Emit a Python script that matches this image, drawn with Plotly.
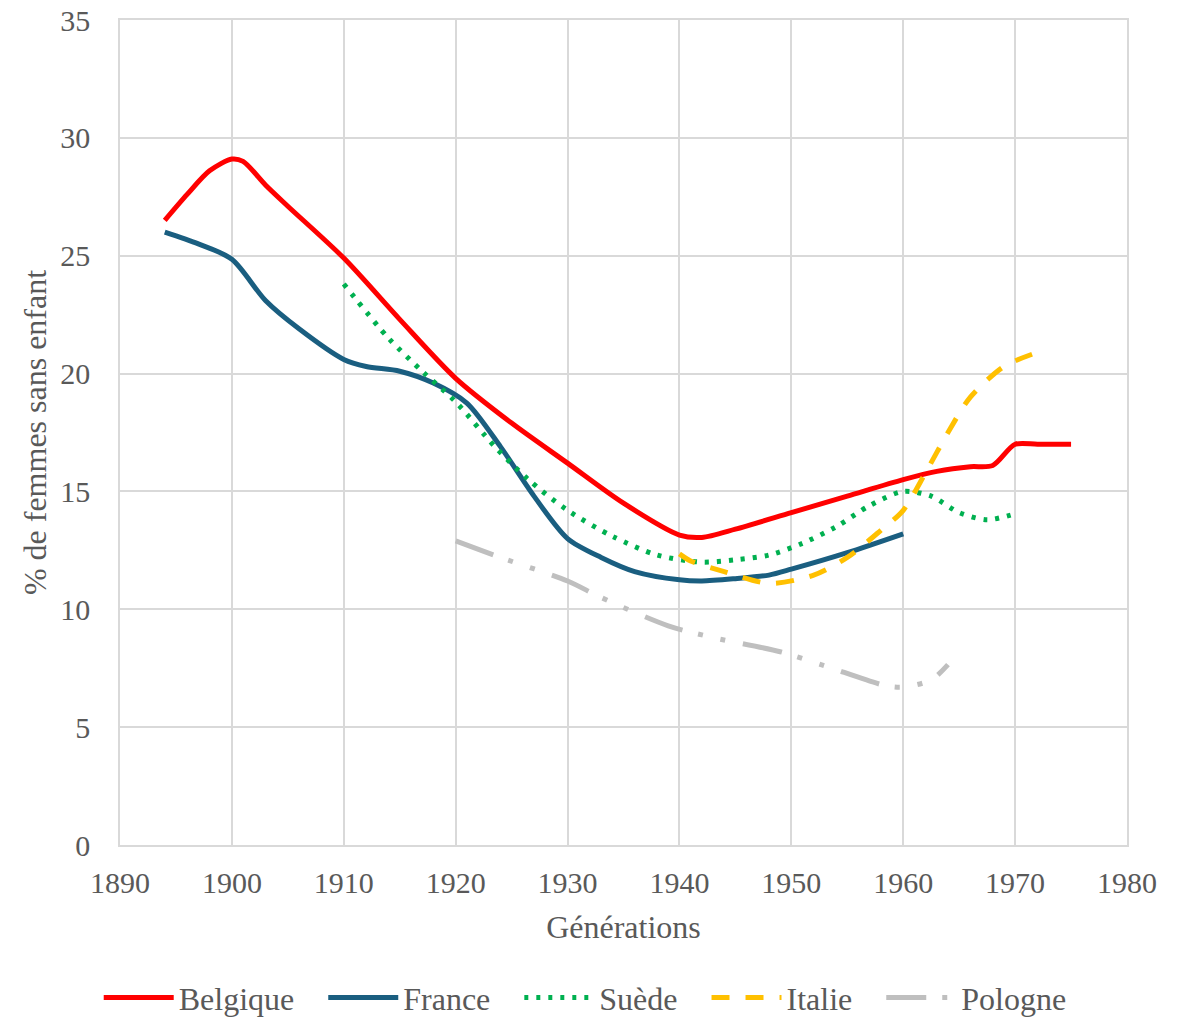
import plotly.graph_objects as go

# Belgique
bel_x = [1894, 1896, 1898, 1900, 1901, 1903, 1905, 1910, 1915, 1920, 1925, 1930, 1935, 1940, 1942, 1945, 1950, 1955, 1960, 1963, 1966, 1968, 1970, 1972, 1975]
bel_y = [26.5, 27.6, 28.6, 29.1, 29.0, 28.0, 27.1, 24.9, 22.3, 19.8, 17.9, 16.2, 14.5, 13.15, 13.05, 13.4, 14.1, 14.8, 15.5, 15.85, 16.05, 16.1, 17.0, 17.0, 17.0]

# France
fra_x = [1894, 1897, 1900, 1903, 1906, 1910, 1912, 1915, 1918, 1921, 1924, 1927, 1930, 1933, 1936, 1940, 1942, 1945, 1948, 1950, 1955, 1960]
fra_y = [26.0, 25.5, 24.85, 23.1, 21.9, 20.6, 20.3, 20.1, 19.6, 18.75, 16.9, 14.8, 13.0, 12.2, 11.6, 11.25, 11.2, 11.3, 11.45, 11.7, 12.4, 13.2]

# Suède
sue_x = [1910, 1914, 1917, 1920, 1923.5, 1926.5, 1930, 1934, 1938, 1942, 1945, 1948, 1951, 1954, 1957, 1960, 1962.5, 1965, 1967.5, 1970]
sue_y = [23.8, 21.5, 20.1, 18.8, 16.9, 15.5, 14.2, 13.1, 12.3, 12.0, 12.1, 12.3, 12.8, 13.5, 14.4, 15.0, 14.8, 14.1, 13.8, 14.05]

# Italie
ita_x = [1940, 1941, 1944, 1948, 1952, 1955, 1958, 1960, 1962, 1964, 1966, 1969, 1972]
ita_y = [12.35, 12.05, 11.6, 11.1, 11.45, 12.2, 13.35, 14.2, 15.8, 17.5, 19.0, 20.3, 20.9]

# Pologne
pol_x = [1920, 1924, 1930, 1933, 1939, 1943, 1949, 1953, 1958.5, 1960, 1962.5, 1964]
pol_y = [12.9, 12.2, 11.2, 10.5, 9.3, 8.8, 8.2, 7.6, 6.75, 6.7, 7.0, 7.65]

series = [
    ("Belgique", bel_x, bel_y, "#FF0000", "solid"),
    ("France", fra_x, fra_y, "#1A5E80", "solid"),
    ("Suède", sue_x, sue_y, "#00B050", "4px,8px"),
    ("Italie", ita_x, ita_y, "#FFC000", "18px,16px"),
    ("Pologne", pol_x, pol_y, "#BFBFBF", "40px,16px,5px,18px,5px,18px"),
]

PAD = "\u00a0\u00a0\u00a0"

fig = go.Figure()
for i, (name, xs, ys, col, dash) in enumerate(series):
    fig.add_trace(go.Scatter(
        x=xs, y=ys, name=name + (PAD if i < len(series) - 1 else ""), mode="lines",
        line=dict(color=col, width=5, dash=dash, shape="spline", smoothing=0.8),
    ))

font_family = "Liberation Serif"
fig.update_layout(
    width=1178, height=1010,
    paper_bgcolor="white", plot_bgcolor="white",
    margin=dict(l=112, r=59, t=12, b=173),
    font=dict(family=font_family, color="#595959", size=30),
    showlegend=True,
    legend=dict(
        orientation="h", xref="container", yref="container",
        x=0.49, xanchor="center", y=0.02, yanchor="middle",
        font=dict(size=32, family=font_family, color="#595959"),
        itemwidth=70,
    ),
    xaxis=dict(
        range=[1890, 1980], dtick=10, tick0=1890,
        showgrid=True, gridcolor="#D9D9D9", gridwidth=1.5,
        showline=True, linecolor="#D9D9D9", linewidth=1.5, mirror=True,
        zeroline=False, ticks="",
        tickfont=dict(size=30), ticklabelstandoff=10,
        ticklabeloverflow="allow",
        automargin=False,
        title=dict(text="Générations", font=dict(size=32), standoff=18),
    ),
    yaxis=dict(
        range=[0, 35], dtick=5, tick0=0,
        showgrid=True, gridcolor="#D9D9D9", gridwidth=1.5,
        showline=True, linecolor="#D9D9D9", linewidth=1.5, mirror=True,
        zeroline=False, ticks="",
        tickfont=dict(size=30), ticklabelstandoff=22,
        ticklabeloverflow="allow",
        automargin=False,
        title=dict(text="% de femmes sans enfant", font=dict(size=32), standoff=4),
    ),
)

fig.write_html("out.html")
